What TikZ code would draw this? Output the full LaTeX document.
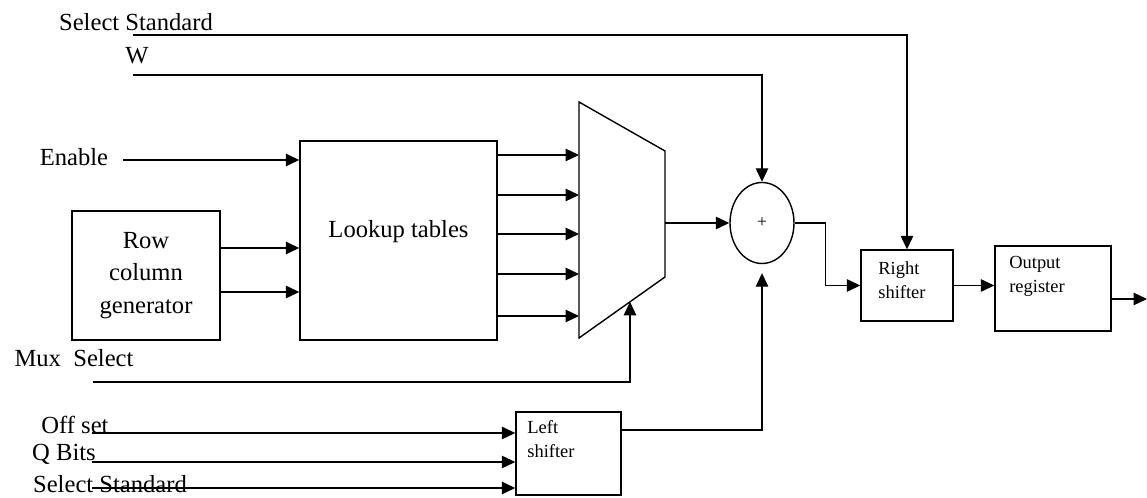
\documentclass[tikz,border=0pt]{standalone}
\usepackage{fontspec}
\setmainfont{Liberation Serif}
\usepackage{tikz}
\usetikzlibrary{arrows.meta,positioning,shapes.geometric,calc}

\begin{document}
\begin{tikzpicture}[
  box/.style={draw,line width=0.8pt,inner sep=0pt},
  lbl/.style={font=\fontsize{14}{17}\selectfont,inner sep=0pt},
  small/.style={font=\fontsize{10.5}{13.6}\selectfont,align=left,inner sep=0pt},
  arr/.style={-{Triangle[length=0.27cm,width=0.25cm]},line width=0.7pt}]
  \useasboundingbox (0,0) rectangle (22.94,9.96);
  % Row column generator
  \node[box,minimum width=2.96cm,minimum height=2.58cm,align=center,font=\fontsize{14}{18.4}\selectfont] (rcg) at (2.92,4.45) {Row\\column\\generator};
  % Lookup tables
  \node[box,minimum width=3.94cm,minimum height=3.98cm,font=\fontsize{14}{17}\selectfont,text depth=0.45cm] (lut) at (7.97,5.15) {Lookup tables};
  \foreach \y in {5.00,4.12}
    \draw[arr] (rcg.east |- 0,\y) -- (lut.west |- 0,\y);
  % Multiplexer
  \coordinate (mux-tl) at (11.58,7.92);
  \coordinate (mux-tr) at (13.30,6.94);
  \coordinate (mux-br) at (13.30,4.42);
  \coordinate (mux-bl) at (11.58,3.20);
  \draw[line width=0.8pt] (mux-tl) -- (mux-tr) -- (mux-br) -- (mux-bl) -- cycle;
  \coordinate (mux-out) at (13.30,5.50);
  \coordinate (mux-sel) at ($(mux-bl)!0.593!(mux-br)$);
  \foreach \y in {6.86,6.06,5.28,4.48,3.64}
    \draw[arr] (lut.east |- 0,\y) -- (mux-tl |- 0,\y);
  % Adder
  \node[draw,ellipse,line width=0.8pt,minimum width=1.28cm,minimum height=1.62cm,inner sep=0pt,font=\fontsize{10}{11}\selectfont] (add) at (15.24,5.50) {+};
  \draw[arr] (mux-out) -- (add);
  % Right shifter
  \node[box,minimum width=1.84cm,minimum height=1.42cm] (rsh) at (18.14,4.25) {};
  \node[small] (rsh-txt) at (18.04,4.36) {Right\\shifter};
  \draw[arr] (add.east) -- ++(0.62,0) |- (rsh.west);
  % Output register
  \node[box,minimum width=2.32cm,minimum height=1.70cm] (oreg) at (21.06,4.19) {};
  \node[small] (oreg-txt) at (20.74,4.44) {Output\\register};
  \draw[arr] (rsh.east) -- (oreg.west |- rsh.east);
  \coordinate (out) at (22.94,3.98);
  \draw[arr] (oreg.east |- out) -- (out);
  % Left shifter
  \node[box,minimum width=2.10cm,minimum height=1.66cm] (lsh) at (11.37,0.89) {};
  \node[small] (lsh-txt) at (11.02,1.18) {Left\\shifter};
  \draw[arr,shorten >=0.18cm] (lsh.east |- 0,1.36) -| (add.south);
  % Inputs
  \node[lbl] (ss-top) at (2.72,9.52) {Select Standard};
  \coordinate (ss-in) at (2.66,9.26);
  \draw[arr] (ss-in) -| (rsh.north);
  \node[lbl] (w) at (2.74,8.84) {W};
  \coordinate (w-in) at (2.66,8.46);
  \draw[arr] (w-in) -| (add.north);
  \node[lbl] (en) at (1.48,6.82) {Enable};
  \coordinate (en-in) at (2.46,6.76);
  \draw[arr] (en-in) -- (lut.west |- en-in);
  \node[lbl] (msel) at (1.48,2.80) {Mux~~Select};
  \coordinate (msel-in) at (1.86,2.32);
  \draw[arr] (msel-in) -| (mux-sel);
  % Left shifter inputs
  \node[lbl] (ofs) at (1.50,1.46) {Off set};
  \node[lbl] (qb) at (1.28,0.88) {Q Bits};
  \node[lbl] (ss-bot) at (2.20,0.28) {Select Standard};
  \foreach \y [count=\i] in {1.30,0.72,0.20}{
    \coordinate (ls-in\i) at (1.84,\y);
    \draw[arr] (ls-in\i) -- (lsh.west |- ls-in\i);
  }
\end{tikzpicture}
\end{document}
